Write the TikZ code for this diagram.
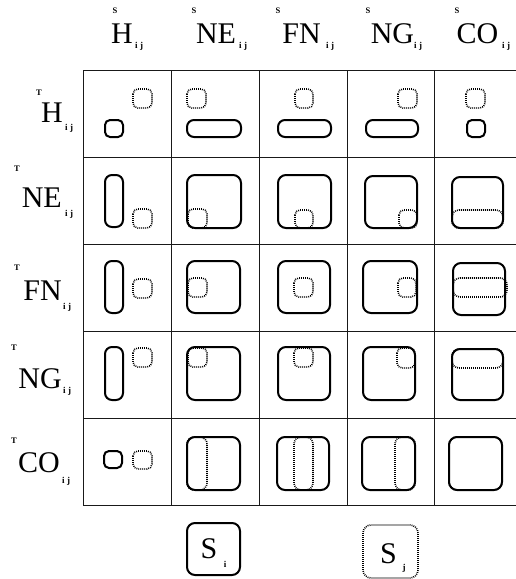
\documentclass[tikz,border=0pt]{standalone}
\usepackage{fontspec}
\setmainfont{Liberation Serif}
\begin{document}
\begin{tikzpicture}[x=1pt,y=-1pt,
  gridline/.style={line width=0.9pt, black!90},
  solidbox/.style={draw, line width=2pt, rounded corners=#1},
  solidbox/.default=5pt,
  dotbox/.style={draw, line width=1.6pt, dash pattern=on 0.9pt off 1.1pt, rounded corners=#1},
  dotbox/.default=5pt,
  mainlbl/.style={inner sep=0pt, font=\fontsize{30}{30}\selectfont},
  sublbl/.style={inner sep=0pt, font=\fontsize{9}{9}\selectfont\bfseries},
  suplbl/.style={inner sep=0pt, font=\fontsize{8.5}{8.5}\selectfont\bfseries},
]
\clip (0,0) rectangle (516,579);
\fill[white] (0,0) rectangle (516,579);

% grid
\foreach \yy in {70,157,244,331,418,505} \draw[gridline] (83,\yy) -- (522,\yy);
\foreach \xx in {83,171,259,347,434,522} \draw[gridline] (\xx,70) -- (\xx,505);

% column headers
\node[mainlbl, anchor=base] (cH)  at (122,43)   {H};
\node[mainlbl, anchor=base] (cNE) at (216,43)   {NE};
\node[mainlbl, anchor=base] (cFN) at (301.5,43) {FN};
\node[mainlbl, anchor=base] (cNG) at (392.5,43) {NG};
\node[mainlbl, anchor=base] (cCO) at (477.5,43) {CO};
\foreach \n/\sx/\px in {cH/135/115, cNE/239/194, cFN/326/278, cNG/414/368, cCO/502/457}{
  \node[sublbl, anchor=base west] at (\sx,48) {i\hspace{2.5pt}j};
  \node[suplbl, anchor=base] at (\px,13) {S};
}

% row labels
\node[mainlbl, anchor=base east] (rH)  at (63,122) {H};
\node[mainlbl, anchor=base east] (rNE) at (62,207) {NE};
\node[mainlbl, anchor=base east] (rFN) at (62,300) {FN};
\node[mainlbl, anchor=base east] (rNG) at (62,388) {NG};
\node[mainlbl, anchor=base east] (rCO) at (60,472) {CO};
\foreach \sx/\sy/\tx/\ty in {65/130/39/95, 65/216/17/171, 63/309/17/270, 63/393/14/350, 62/483/14/443}{
  \node[sublbl, anchor=base west] at (\sx,\sy) {i\hspace{2.5pt}j};
  \node[suplbl, anchor=base] at (\tx,\ty) {T};
}

% row H
\draw[solidbox] (105,120) rectangle (123,137);
\draw[dotbox]   (133,89) rectangle (152,108);
\draw[dotbox]   (187,89) rectangle (206,108);
\draw[solidbox=7pt] (187,120) rectangle (241,137);
\draw[dotbox]   (295,89) rectangle (313,108);
\draw[solidbox=7pt] (278,120) rectangle (331,137);
\draw[dotbox]   (398,89) rectangle (417,108);
\draw[solidbox=7pt] (366,120) rectangle (418,137);
\draw[dotbox]   (466,89) rectangle (485,108);
\draw[solidbox] (467,120) rectangle (485,137);

% row NE
\draw[solidbox=7pt] (105,175) rectangle (123,227);
\draw[dotbox]   (133,209) rectangle (152,228);
\draw[solidbox=8pt] (187,175) rectangle (241,228);
\draw[dotbox]   (188,209) rectangle (207,228);
\draw[solidbox=8pt] (278,175) rectangle (331,228);
\draw[dotbox]   (295,210) rectangle (313,228);
\draw[solidbox=8pt] (365,176) rectangle (417,228);
\draw[dotbox]   (399,210) rectangle (417,228);
\draw[solidbox=8pt] (452,177) rectangle (503,228);
\draw[dotbox=7pt] (452,210) rectangle (503,228);

% row FN
\draw[solidbox=7pt] (105,261) rectangle (123,313);
\draw[dotbox]   (133,279) rectangle (152,298);
\draw[solidbox=8pt] (187,261) rectangle (240,313);
\draw[dotbox]   (188,278) rectangle (207,297);
\draw[solidbox=8pt] (278,261) rectangle (330,313);
\draw[dotbox]   (294,278) rectangle (313,297);
\draw[solidbox=8pt] (363,261) rectangle (417,313);
\draw[dotbox]   (398,278) rectangle (416,297);
\draw[solidbox=8pt] (453,263) rectangle (505,315);
\draw[dotbox=7pt] (453,278) rectangle (507,297);

% row NG
\draw[solidbox=7pt] (105,347) rectangle (123,400);
\draw[dotbox]   (133,348) rectangle (152,367);
\draw[solidbox=8pt] (187,347) rectangle (240,400);
\draw[dotbox]   (188,348) rectangle (207,367);
\draw[solidbox=8pt] (278,347) rectangle (330,400);
\draw[dotbox]   (294,348) rectangle (313,367);
\draw[solidbox=8pt] (363,347) rectangle (415,400);
\draw[dotbox]   (397,348) rectangle (415,368);
\draw[solidbox=8pt] (452,349) rectangle (503,400);
\draw[dotbox=7pt] (452,349) rectangle (503,368);

% row CO
\draw[solidbox] (104,451) rectangle (122,468);
\draw[dotbox]   (133,451) rectangle (152,469);
\draw[solidbox=8pt] (187,437) rectangle (240,490);
\draw[dotbox=7pt] (187,437) rectangle (207,490);
\draw[solidbox=8pt] (277,437) rectangle (329,490);
\draw[dotbox=7pt] (294,437) rectangle (313,490);
\draw[solidbox=8pt] (362,437) rectangle (415,490);
\draw[dotbox=7pt] (395,437) rectangle (415,490);
\draw[solidbox=8pt] (449,437) rectangle (502,490);
\draw[dotbox=8pt] (449,437) rectangle (502,490);

% legend boxes
\draw[solidbox=8pt] (187,523) rectangle (240,575);
\node[mainlbl, anchor=base] (Si) at (209,558) {S};
\node[sublbl, anchor=base] at (225,567) {i};
\draw[dotbox=8pt] (363,525) rectangle (418,578);
\node[mainlbl, anchor=base] (Sj) at (388.5,563) {S};
\node[sublbl, anchor=base] at (404,570) {j};
\end{tikzpicture}
\end{document}
